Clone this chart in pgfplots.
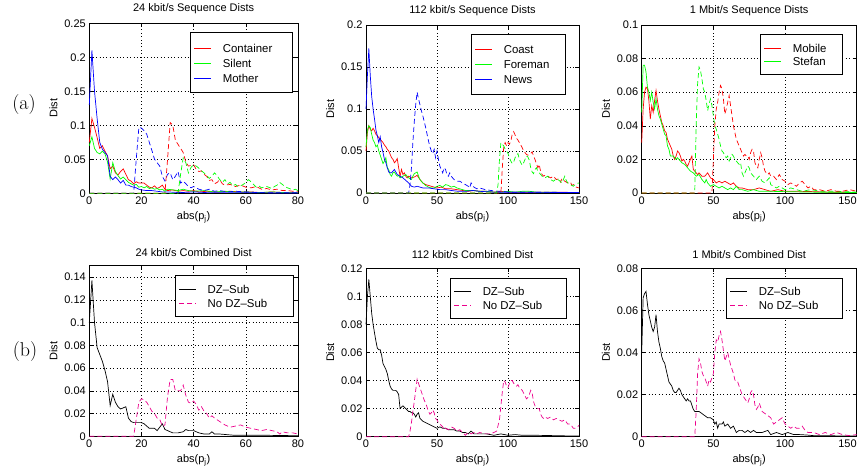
\documentclass[border=0pt]{standalone}
\usepackage{pgfplots}
\pgfplotsset{compat=1.18}
\usepackage{fontspec}
\newfontfamily\hv{Liberation Sans}

\tikzset{dsh/.style={dash pattern=on 5pt off 3pt}}
\pgfplotsset{
  matfig/.style={
    scale only axis,
    font=\hv\fontsize{11}{13}\selectfont,
    tick label style={font=\hv\fontsize{11}{13}\selectfont},
    /pgf/number format/assume math mode=true,
    grid=major,
    grid style={black, line width=0.5pt, dash pattern=on 0.6pt off 2.8pt},
    axis line style={line width=0.6pt},
    tick align=inside,
    major tick length=4pt,
    tick style={black, line width=0.5pt},
    xmin=0, ymin=0,
    clip=false,
    scaled y ticks=false,
    yticklabel style={/pgf/number format/fixed, /pgf/number format/precision=2},
    ylabel={Dist}, xlabel={abs(p\textsubscript{j})},
    every axis plot/.append style={line width=0.7pt},
  },
}
% legend box: position (rel axis), width, height
\newcommand{\mlbox}[3]{\node[draw=black, line width=0.6pt, fill=white, anchor=north east,
  minimum width=#2, minimum height=#3, inner sep=0pt] (leg) at (rel axis cs:#1) {};}
% legend row: offset from top, line style, text
\newcommand{\mlrow}[3]{\draw[#2, line width=1.1pt] ([xshift=4.3pt,yshift=-#1]leg.north west) -- ++(16.8pt,0pt);
  \node[anchor=west, inner sep=0pt, font=\hv\fontsize{11.4}{13}\selectfont]
    at ([xshift=32.5pt,yshift=-#1]leg.north west) {#3};}

\begin{document}
\begin{tikzpicture}
\useasboundingbox (0,0) rectangle (864pt,470pt);

% ---------- (a) 24 kbit/s ----------
\begin{axis}[matfig, at={(89.3pt,276.7pt)}, anchor=south west,
  width=208.7pt, height=170pt, xmax=80, ymax=0.25,
  xtick={0,20,40,60,80}, ytick={0,0.05,0.1,0.15,0.2,0.25},
  title={24 kbit/s Sequence Dists}]
\addplot[red] coordinates {(0,0.075)(1,0.11)(2,0.097)(3,0.082)(4,0.066)(5,0.07)(6,0.062)(7,0.055)(8,0.036)(9,0.04)(10,0.03)(11,0.027)(12,0.032)(13,0.036)(14,0.028)(15,0.02)(16,0.018)(17,0.014)(18,0.017)(19,0.015)(20,0.015)(21,0.015)(22,0.012)(23,0.009)(24,0.008)(25,0.011)(26,0.007)(27,0.009)(28,0.012)(29,0.006)(30,0.004)(32,0.005)(34,0.003)(36,0.004)(38,0.003)(40,0.004)(42,0.002)(45,0.003)(48,0.002)(50,0.002)(54,0.003)(58,0.002)(62,0.002)(66,0.001)(70,0.002)(75,0.001)(80,0.001)};
\addplot[green] coordinates {(0,0.07)(1,0.083)(2,0.066)(3,0.06)(4,0.058)(5,0.062)(6,0.058)(7,0.046)(8,0.021)(9,0.045)(10,0.032)(11,0.026)(12,0.021)(13,0.024)(14,0.02)(15,0.016)(16,0.014)(17,0.012)(18,0.013)(19,0.009)(20,0.01)(21,0.008)(22,0.01)(23,0.007)(24,0.008)(25,0.006)(26,0.007)(27,0.005)(28,0.006)(29,0.003)(30,0.006)(32,0.005)(34,0.004)(36,0.006)(38,0.004)(40,0.003)(44,0.004)(48,0.002)(52,0.003)(56,0.002)(60,0.002)(65,0.001)(70,0.002)(75,0.001)(80,0.001)};
\addplot[blue] coordinates {(0,0.13)(1,0.21)(2,0.15)(3,0.11)(4,0.075)(5,0.065)(6,0.06)(7,0.055)(8,0.025)(9,0.02)(10,0.024)(11,0.02)(12,0.015)(13,0.019)(14,0.012)(15,0.012)(16,0.01)(17,0.009)(18,0.008)(19,0.006)(20,0.005)(22,0.004)(24,0.004)(26,0.003)(28,0.002)(30,0.002)(35,0.001)(40,0.002)(45,0.001)(50,0.001)(60,0.001)(70,0.0005)(80,0.0005)};
\addplot[blue, dsh] coordinates {(0,0)(17,0)(18,0.05)(19,0.097)(20,0.096)(21,0.092)(22,0.087)(23,0.075)(24,0.063)(25,0.05)(26,0.045)(27,0.04)(28,0.025)(29,0.018)(30,0.028)(31,0.03)(32,0.02)(33,0.025)(34,0.032)(35,0.015)(36,0.018)(37,0.014)(38,0.01)(39,0.008)(40,0.01)(42,0.006)(44,0.004)(46,0.006)(48,0.003)(50,0.004)(53,0.002)(56,0.003)(60,0.002)(65,0.001)(70,0.001)(80,0.001)};
\addplot[red, dsh] coordinates {(0,0)(29,0)(30,0.05)(31,0.104)(32,0.1)(33,0.078)(34,0.072)(35,0.066)(36,0.06)(37,0.046)(38,0.04)(39,0.041)(40,0.042)(41,0.035)(42,0.032)(43,0.033)(44,0.028)(45,0.025)(46,0.019)(47,0.02)(48,0.014)(49,0.016)(50,0.02)(51,0.014)(52,0.012)(54,0.013)(56,0.01)(58,0.012)(60,0.009)(62,0.008)(64,0.01)(66,0.006)(68,0.007)(70,0.005)(72,0.006)(74,0.004)(76,0.004)(78,0.003)(80,0.003)};
\addplot[green, dsh] coordinates {(0,0)(34,0)(35,0.028)(36,0.052)(37,0.045)(38,0.03)(39,0.038)(40,0.042)(41,0.04)(42,0.037)(43,0.033)(44,0.03)(45,0.026)(46,0.022)(47,0.025)(48,0.03)(49,0.026)(50,0.02)(51,0.016)(52,0.02)(53,0.014)(54,0.016)(55,0.011)(56,0.013)(57,0.01)(58,0.011)(59,0.013)(60,0.016)(61,0.02)(62,0.017)(63,0.013)(64,0.009)(65,0.011)(66,0.008)(68,0.01)(70,0.007)(71,0.01)(72,0.012)(73,0.016)(74,0.013)(75,0.01)(76,0.008)(78,0.005)(79,0.006)(80,0.004)};
\mlbox{0.975,0.947}{102pt}{59.4pt}
\mlrow{16pt}{red}{Container}
\mlrow{31pt}{green}{Silent}
\mlrow{46pt}{blue}{Mother}
\end{axis}

% ---------- (a) 112 kbit/s ----------
\begin{axis}[matfig, at={(366pt,277pt)}, anchor=south west,
  width=213pt, height=168pt, xmax=150, ymax=0.2,
  xtick={0,50,100,150}, ytick={0,0.05,0.1,0.15,0.2},
  title={112 kbit/s Sequence Dists}]
\addplot[red] coordinates {(0,0.05)(1,0.072)(2,0.08)(3,0.076)(4,0.074)(5,0.077)(6,0.074)(7,0.07)(8,0.068)(9,0.066)(10,0.064)(11,0.062)(12,0.06)(13,0.057)(14,0.055)(15,0.052)(16,0.05)(17,0.046)(18,0.042)(19,0.04)(20,0.036)(21,0.038)(22,0.041)(23,0.03)(24,0.02)(25,0.028)(26,0.022)(27,0.024)(28,0.02)(29,0.018)(30,0.02)(32,0.018)(34,0.019)(36,0.021)(38,0.016)(40,0.012)(42,0.01)(44,0.009)(46,0.008)(48,0.007)(50,0.006)(53,0.007)(56,0.005)(60,0.005)(64,0.004)(68,0.003)(72,0.002)(76,0.003)(80,0.002)(85,0.002)(90,0.001)(95,0.002)(100,0.001)(110,0.001)(120,0.001)(135,0.001)(150,0.0005)};
\addplot[green] coordinates {(0,0.055)(1,0.075)(2,0.08)(3,0.078)(4,0.07)(5,0.063)(6,0.06)(7,0.055)(8,0.057)(9,0.05)(10,0.045)(11,0.04)(12,0.035)(13,0.038)(14,0.042)(15,0.03)(16,0.028)(17,0.022)(18,0.02)(19,0.024)(20,0.025)(21,0.022)(22,0.02)(23,0.021)(24,0.018)(26,0.02)(28,0.022)(30,0.018)(32,0.016)(33,0.02)(34,0.023)(36,0.025)(37,0.02)(38,0.016)(40,0.012)(42,0.009)(44,0.007)(46,0.006)(48,0.006)(50,0.008)(52,0.009)(54,0.007)(56,0.01)(58,0.009)(60,0.007)(62,0.008)(64,0.006)(66,0.005)(68,0.004)(70,0.003)(75,0.003)(80,0.002)(85,0.002)(90,0.001)(95,0.001)(100,0.002)(105,0.001)(110,0.002)(115,0.002)(120,0.001)(130,0.001)(140,0.0005)(150,0.0005)};
\addplot[blue] coordinates {(0,0.1)(1,0.14)(2,0.172)(3,0.14)(4,0.115)(5,0.1)(6,0.088)(7,0.075)(8,0.068)(9,0.06)(10,0.067)(11,0.055)(12,0.048)(13,0.04)(14,0.036)(15,0.03)(16,0.025)(17,0.024)(18,0.024)(19,0.026)(20,0.028)(21,0.025)(22,0.022)(24,0.02)(26,0.018)(28,0.015)(30,0.012)(32,0.008)(34,0.007)(36,0.008)(38,0.007)(40,0.006)(44,0.006)(48,0.005)(52,0.004)(56,0.004)(60,0.003)(65,0.002)(70,0.002)(75,0.003)(80,0.002)(90,0.001)(100,0.001)(120,0.0008)(150,0.0005)};
\addplot[blue, dsh] coordinates {(0,0)(30,0)(31,0.01)(32,0.03)(33,0.06)(34,0.085)(35,0.105)(36,0.12)(37,0.112)(38,0.105)(39,0.098)(40,0.092)(41,0.085)(42,0.078)(43,0.07)(44,0.062)(45,0.055)(46,0.05)(47,0.047)(48,0.052)(49,0.042)(50,0.05)(51,0.04)(52,0.032)(53,0.028)(54,0.024)(55,0.03)(56,0.028)(57,0.022)(58,0.02)(59,0.024)(60,0.02)(62,0.016)(64,0.014)(66,0.014)(68,0.012)(70,0.01)(72,0.008)(73,0.006)(74,0.012)(76,0.007)(78,0.005)(80,0.006)(84,0.004)(88,0.003)(92,0.002)(96,0.002)(100,0.001)(110,0.001)(120,0.001)(150,0.0005)};
\addplot[red, dsh] coordinates {(0,0)(95,0)(96,0.03)(97,0.055)(98,0.06)(99,0.056)(100,0.06)(101,0.058)(102,0.062)(103,0.07)(104,0.073)(105,0.069)(106,0.065)(107,0.063)(108,0.06)(109,0.057)(110,0.054)(111,0.05)(112,0.048)(113,0.046)(114,0.045)(115,0.046)(116,0.047)(117,0.049)(118,0.044)(119,0.04)(120,0.035)(121,0.03)(122,0.034)(123,0.025)(124,0.022)(125,0.02)(126,0.021)(128,0.02)(130,0.018)(132,0.02)(134,0.016)(136,0.017)(137,0.013)(138,0.017)(140,0.014)(142,0.012)(144,0.013)(145,0.009)(146,0.01)(148,0.007)(150,0.006)};
\addplot[green, dsh] coordinates {(0,0)(92,0)(93,0.01)(94,0.04)(95,0.06)(96,0.058)(97,0.056)(98,0.052)(99,0.05)(100,0.047)(101,0.042)(102,0.038)(103,0.035)(104,0.037)(105,0.042)(106,0.045)(107,0.047)(108,0.04)(109,0.036)(110,0.033)(111,0.036)(112,0.04)(113,0.044)(114,0.043)(115,0.039)(116,0.03)(117,0.025)(118,0.023)(119,0.028)(120,0.03)(121,0.026)(122,0.024)(124,0.02)(126,0.018)(128,0.02)(130,0.016)(132,0.014)(134,0.017)(136,0.015)(138,0.012)(140,0.02)(141,0.015)(142,0.012)(144,0.01)(146,0.008)(148,0.011)(150,0.012)};
\mlbox{0.939,0.945}{94.3pt}{60pt}
\mlrow{15.7pt}{red}{Coast}
\mlrow{30.7pt}{green}{Foreman}
\mlrow{45.7pt}{blue}{News}
\end{axis}

% ---------- (a) 1 Mbit/s ----------
\begin{axis}[matfig, at={(641.7pt,277pt)}, anchor=south west,
  width=215pt, height=168pt, xmax=150, ymax=0.1,
  xtick={0,50,100,150}, xticklabels={0,50,100,\makebox[0pt][r]{150}},
  ytick={0,0.02,0.04,0.06,0.08,0.1},
  title={1 Mbit/s Sequence Dists}]
\addplot[red] coordinates {(0,0.03)(1,0.05)(2,0.06)(3,0.063)(4,0.062)(5,0.055)(6,0.044)(7,0.052)(8,0.048)(9,0.055)(10,0.061)(11,0.055)(12,0.05)(13,0.046)(14,0.042)(15,0.04)(16,0.037)(17,0.036)(18,0.032)(19,0.03)(20,0.028)(21,0.026)(22,0.022)(23,0.02)(24,0.022)(25,0.025)(26,0.024)(27,0.022)(28,0.019)(29,0.02)(30,0.019)(31,0.017)(32,0.016)(33,0.018)(34,0.02)(35,0.022)(36,0.014)(37,0.013)(38,0.012)(39,0.011)(40,0.012)(42,0.01)(44,0.01)(46,0.012)(48,0.009)(50,0.008)(52,0.006)(54,0.007)(56,0.006)(58,0.007)(60,0.006)(62,0.005)(64,0.006)(66,0.004)(68,0.003)(70,0.003)(74,0.002)(78,0.002)(82,0.003)(86,0.002)(90,0.001)(95,0.002)(100,0.001)(110,0.001)(120,0.0008)(130,0.0005)(140,0.0005)(150,0.0003)};
\addplot[green] coordinates {(0,0.048)(1,0.076)(2,0.076)(3,0.072)(4,0.063)(5,0.06)(6,0.055)(7,0.06)(8,0.054)(9,0.05)(10,0.056)(11,0.05)(12,0.046)(13,0.044)(14,0.041)(15,0.038)(16,0.035)(17,0.034)(18,0.028)(19,0.026)(20,0.022)(21,0.022)(22,0.022)(23,0.021)(24,0.02)(25,0.021)(26,0.02)(27,0.019)(28,0.018)(30,0.017)(32,0.015)(34,0.013)(36,0.012)(38,0.01)(40,0.011)(42,0.008)(44,0.006)(45,0.008)(46,0.006)(48,0.004)(50,0.005)(52,0.004)(54,0.003)(56,0.004)(58,0.003)(60,0.002)(62,0.003)(64,0.002)(66,0.004)(68,0.002)(70,0.002)(74,0.001)(78,0.002)(82,0.001)(90,0.001)(100,0.0008)(120,0.0005)(150,0.0003)};
\addplot[green, dsh] coordinates {(0,0)(37,0)(38,0.04)(39,0.065)(40,0.075)(41,0.073)(42,0.068)(43,0.062)(44,0.06)(45,0.055)(46,0.049)(47,0.053)(48,0.056)(49,0.052)(50,0.046)(51,0.04)(52,0.038)(53,0.035)(54,0.032)(55,0.028)(56,0.025)(57,0.024)(58,0.022)(59,0.021)(60,0.022)(61,0.019)(62,0.021)(63,0.023)(64,0.022)(65,0.02)(66,0.019)(67,0.018)(68,0.017)(69,0.018)(70,0.012)(71,0.01)(72,0.012)(73,0.014)(74,0.016)(75,0.015)(76,0.012)(78,0.01)(80,0.008)(82,0.01)(84,0.007)(86,0.006)(88,0.008)(89,0.009)(90,0.005)(92,0.004)(94,0.003)(96,0.004)(98,0.003)(100,0.002)(104,0.003)(108,0.002)(112,0.001)(118,0.002)(125,0.001)(135,0.001)(150,0.0005)};
\addplot[red, dsh] coordinates {(0,0)(49,0)(50,0.02)(51,0.04)(52,0.05)(53,0.054)(54,0.06)(55,0.064)(56,0.062)(57,0.056)(58,0.047)(59,0.05)(60,0.054)(61,0.058)(62,0.052)(63,0.046)(64,0.04)(65,0.036)(66,0.032)(67,0.03)(68,0.028)(69,0.026)(70,0.024)(71,0.022)(72,0.023)(73,0.022)(74,0.022)(75,0.02)(76,0.024)(77,0.026)(78,0.025)(79,0.018)(80,0.016)(81,0.015)(82,0.02)(83,0.024)(84,0.021)(85,0.016)(86,0.013)(87,0.012)(88,0.011)(89,0.012)(90,0.01)(92,0.01)(94,0.008)(96,0.011)(98,0.008)(100,0.007)(102,0.005)(104,0.006)(106,0.005)(108,0.004)(110,0.006)(112,0.007)(114,0.005)(116,0.003)(118,0.004)(120,0.002)(124,0.002)(128,0.001)(132,0.002)(136,0.001)(140,0.001)(145,0.002)(150,0.001)};
\mlbox{0.935,0.945}{82pt}{40pt}
\mlrow{14.5pt}{red}{Mobile}
\mlrow{27.5pt}{green}{Stefan}
\end{axis}

% ---------- (b) 24 kbit/s ----------
\begin{axis}[matfig, at={(89.3pt,33.7pt)}, anchor=south west,
  width=208.7pt, height=170.6pt, xmax=80, ymax=0.15,
  xtick={0,20,40,60,80}, ytick={0,0.02,0.04,0.06,0.08,0.1,0.12,0.14},
  title={24 kbit/s Combined Dist}]
\addplot[black] coordinates {(0,0.1)(1,0.137)(2,0.1)(3,0.078)(4,0.072)(5,0.066)(6,0.058)(7,0.048)(8,0.027)(9,0.037)(10,0.03)(11,0.026)(12,0.024)(13,0.025)(14,0.026)(15,0.016)(16,0.013)(17,0.012)(18,0.012)(19,0.012)(20,0.012)(21,0.011)(22,0.009)(23,0.007)(24,0.007)(25,0.007)(26,0.005)(27,0.008)(28,0.011)(29,0.006)(30,0.005)(31,0.004)(32,0.003)(34,0.003)(36,0.004)(37,0.006)(38,0.005)(40,0.005)(42,0.003)(44,0.002)(46,0.002)(47,0.004)(48,0.002)(50,0.002)(55,0.001)(60,0.001)(65,0.001)(70,0.0008)(80,0.0005)};
\addplot[magenta, dsh] coordinates {(0,0)(17,0)(18,0.015)(19,0.03)(20,0.033)(21,0.032)(22,0.03)(23,0.026)(24,0.022)(25,0.02)(26,0.016)(27,0.015)(28,0.009)(29,0.01)(30,0.035)(31,0.05)(32,0.05)(33,0.04)(34,0.04)(35,0.04)(36,0.045)(37,0.036)(38,0.03)(39,0.029)(40,0.031)(41,0.028)(42,0.023)(43,0.026)(44,0.022)(45,0.02)(46,0.016)(47,0.018)(48,0.016)(50,0.013)(52,0.01)(54,0.008)(56,0.009)(58,0.01)(60,0.008)(62,0.007)(64,0.006)(66,0.005)(68,0.006)(70,0.005)(72,0.004)(73,0.002)(74,0.004)(76,0.003)(78,0.003)(80,0.002)};
\mlbox{0.977,0.945}{117.6pt}{40.7pt}
\mlrow{14pt}{black}{DZ\textendash Sub}
\mlrow{28pt}{magenta, dsh}{No DZ\textendash Sub}
\end{axis}

% ---------- (b) 112 kbit/s ----------
\begin{axis}[matfig, at={(366pt,33.3pt)}, anchor=south west,
  width=213pt, height=168.4pt, xmax=150, ymax=0.12,
  xtick={0,50,100,150}, ytick={0,0.02,0.04,0.06,0.08,0.1,0.12},
  title={112 kbit/s Combined Dist}]
\addplot[black] coordinates {(0,0.08)(1,0.1)(2,0.112)(3,0.1)(4,0.088)(5,0.08)(6,0.074)(7,0.068)(8,0.063)(9,0.062)(10,0.062)(11,0.058)(12,0.052)(13,0.05)(14,0.048)(15,0.045)(16,0.04)(17,0.036)(18,0.034)(19,0.033)(20,0.033)(21,0.033)(22,0.032)(23,0.03)(24,0.02)(25,0.021)(26,0.022)(27,0.021)(28,0.02)(29,0.019)(30,0.018)(31,0.018)(32,0.017)(33,0.017)(34,0.016)(35,0.014)(36,0.016)(37,0.017)(38,0.013)(39,0.012)(40,0.011)(42,0.01)(44,0.009)(46,0.008)(48,0.007)(50,0.006)(52,0.007)(54,0.006)(56,0.006)(58,0.005)(60,0.005)(62,0.005)(64,0.004)(66,0.004)(68,0.003)(70,0.003)(72,0.002)(74,0.004)(76,0.002)(78,0.002)(80,0.002)(85,0.002)(90,0.001)(95,0.002)(100,0.001)(105,0.0015)(110,0.001)(120,0.001)(130,0.0008)(140,0.0006)(150,0.0005)};
\addplot[magenta, dsh] coordinates {(0,0)(30,0)(31,0.004)(32,0.01)(33,0.018)(34,0.025)(35,0.033)(36,0.041)(37,0.038)(38,0.035)(39,0.032)(40,0.029)(41,0.026)(42,0.024)(43,0.021)(44,0.018)(45,0.016)(46,0.017)(47,0.019)(48,0.017)(49,0.013)(50,0.012)(51,0.01)(52,0.009)(53,0.008)(54,0.007)(55,0.005)(56,0.006)(58,0.005)(60,0.007)(62,0.006)(64,0.004)(66,0.005)(68,0.003)(70,0.001)(72,0.003)(74,0.002)(76,0.003)(78,0.002)(80,0.003)(84,0.002)(88,0.002)(90,0.003)(92,0.004)(94,0.012)(95,0.022)(96,0.032)(97,0.04)(98,0.039)(99,0.036)(100,0.035)(101,0.038)(102,0.04)(103,0.04)(104,0.038)(105,0.037)(106,0.036)(107,0.037)(108,0.035)(109,0.034)(110,0.033)(111,0.031)(112,0.029)(113,0.027)(114,0.028)(115,0.03)(116,0.033)(117,0.031)(118,0.025)(119,0.022)(120,0.021)(121,0.02)(122,0.02)(123,0.016)(124,0.014)(125,0.013)(126,0.014)(128,0.013)(130,0.014)(132,0.012)(134,0.013)(136,0.012)(138,0.011)(140,0.012)(142,0.009)(144,0.009)(146,0.006)(148,0.006)(150,0.008)};
\mlbox{0.942,0.944}{116pt}{40pt}
\mlrow{14pt}{black}{DZ\textendash Sub}
\mlrow{28pt}{magenta, dsh}{No DZ\textendash Sub}
\end{axis}

% ---------- (b) 1 Mbit/s ----------
\begin{axis}[matfig, at={(641.7pt,33.3pt)}, anchor=south west,
  width=215pt, height=168.4pt, xmax=150, ymax=0.08,
  xtick={0,50,100,150}, xticklabels={0,50,100,\makebox[0pt][r]{150}},
  ytick={0,0.02,0.04,0.06,0.08},
  title={1 Mbit/s Combined Dist}]
\addplot[black] coordinates {(0,0.04)(1,0.066)(2,0.068)(3,0.069)(4,0.063)(5,0.058)(6,0.055)(7,0.052)(8,0.05)(9,0.052)(10,0.058)(11,0.05)(12,0.045)(13,0.042)(14,0.038)(15,0.036)(16,0.035)(17,0.032)(18,0.029)(19,0.026)(20,0.025)(21,0.024)(22,0.022)(23,0.021)(24,0.021)(25,0.022)(26,0.023)(27,0.022)(28,0.02)(29,0.019)(30,0.018)(31,0.017)(32,0.018)(33,0.017)(34,0.017)(35,0.015)(36,0.013)(37,0.012)(38,0.012)(40,0.012)(42,0.011)(44,0.01)(46,0.009)(48,0.009)(50,0.008)(51,0.006)(52,0.007)(53,0.004)(54,0.006)(56,0.006)(57,0.007)(58,0.005)(60,0.006)(62,0.004)(64,0.005)(66,0.002)(68,0.003)(70,0.003)(72,0.002)(74,0.003)(76,0.002)(78,0.003)(80,0.002)(84,0.002)(88,0.003)(90,0.001)(94,0.002)(98,0.001)(102,0.002)(106,0.001)(110,0.001)(115,0.0008)(120,0.0005)(130,0.0005)(140,0.0003)(150,0.0003)};
\addplot[magenta, dsh] coordinates {(0,0)(37,0)(38,0.012)(39,0.03)(40,0.037)(41,0.035)(42,0.031)(43,0.029)(44,0.028)(45,0.026)(46,0.024)(47,0.027)(48,0.026)(49,0.028)(50,0.03)(51,0.04)(52,0.046)(53,0.045)(54,0.048)(55,0.05)(56,0.046)(57,0.041)(58,0.036)(59,0.038)(60,0.04)(61,0.037)(62,0.034)(63,0.032)(64,0.03)(65,0.027)(66,0.026)(67,0.026)(68,0.024)(69,0.022)(70,0.02)(71,0.019)(72,0.018)(73,0.017)(74,0.016)(75,0.018)(76,0.021)(77,0.022)(78,0.02)(79,0.015)(80,0.013)(81,0.014)(82,0.016)(83,0.014)(84,0.012)(86,0.011)(88,0.01)(90,0.009)(92,0.006)(94,0.007)(96,0.008)(98,0.009)(100,0.006)(102,0.005)(104,0.004)(106,0.005)(108,0.004)(110,0.004)(112,0.005)(114,0.003)(116,0.002)(118,0.002)(120,0.002)(124,0.001)(128,0.002)(132,0.001)(136,0.002)(140,0.001)(145,0.0005)(150,0.001)};
\mlbox{0.935,0.944}{116pt}{40pt}
\mlrow{14pt}{black}{DZ\textendash Sub}
\mlrow{28pt}{magenta, dsh}{No DZ\textendash Sub}
\end{axis}

\node[font=\fontsize{20}{24}\selectfont] at (24pt,365pt) {(a)};
\node[font=\fontsize{20}{24}\selectfont] at (25pt,118pt) {(b)};
\end{tikzpicture}
\end{document}
